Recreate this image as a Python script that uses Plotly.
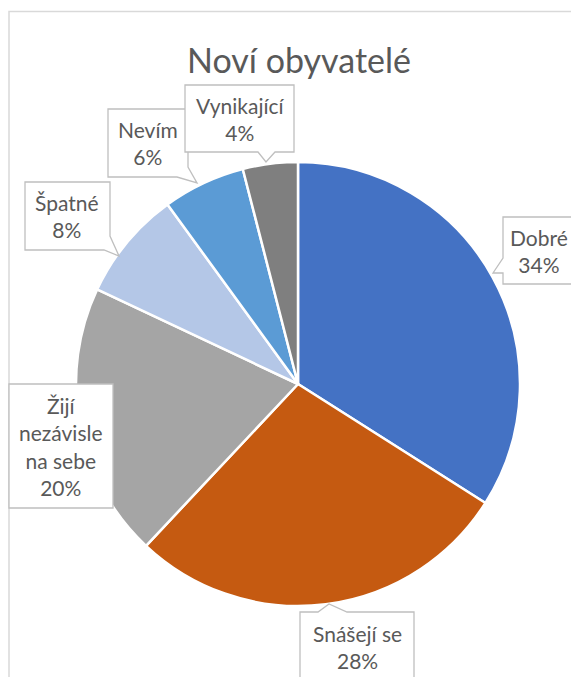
import plotly.graph_objects as go

# ---- data ----
categories = ["Dobré", "Snášejí se", "Žijí nezávisle na sebe", "Špatné", "Nevím", "Vynikající"]
values = [34, 28, 20, 8, 6, 4]
label_lines = [["Dobré"], ["Snášejí se"], ["Žijí", "nezávisle", "na sebe"], ["Špatné"], ["Nevím"], ["Vynikající"]]
colors = ["#4472C4", "#C55A11", "#A5A5A5", "#B4C7E7", "#5B9BD5", "#7F7F7F"]
title_text = "Noví obyvatelé"

# page body has an 8px margin; figure fills the rest of the window
OFF = 8
W, H = 579 - OFF, 677 - OFF
FONT = "Lato, Calibri, sans-serif"
TXT = "#595959"
EDGE = "#BFBFBF"

def px(x):
    return (x - OFF) / W

def py(y):
    return 1 - (y - OFF) / H

# pie placement (window pixels)
cx, cy, r = 298, 384, 222

fig = go.Figure(go.Pie(
    labels=categories, values=values, sort=False, direction="clockwise", rotation=0,
    marker=dict(colors=colors, line=dict(color="white", width=2.5)),
    textinfo="none", hoverinfo="label+percent", showlegend=False,
    domain=dict(x=[px(cx - r), px(cx + r)], y=[py(cy + r), py(cy - r)]),
))

# callout outlines (window-pixel polygons), in category order
callouts = [
    [(503, 217), (575, 217), (575, 284), (503, 284), (503, 273), (493, 273), (503, 258)],
    [(300, 612), (318, 612), (329, 604), (347, 612), (414, 612), (414, 690), (300, 690)],
    [(9, 384), (113, 384), (113, 508), (9, 508)],
    [(25, 182), (110, 182), (110, 236), (119, 256), (104, 250), (25, 250)],
    [(108, 109), (188, 109), (188, 167), (197, 183), (177, 177), (108, 177)],
    [(185, 85), (294, 85), (294, 152), (275, 152), (266, 162), (258, 152), (185, 152)],
]
text_centers = [(539, 251), (357, 647), (61, 446), (67, 216), (148, 143), (240, 119)]

shapes = [dict(type="rect", xref="paper", yref="paper", x0=px(9), x1=1.02, y0=-0.02, y1=py(11.5),
               line=dict(color="#D9D9D9", width=1.5), fillcolor="rgba(0,0,0,0)", layer="below")]
for poly in callouts:
    path = "M " + " L ".join(f"{px(x):.5f},{py(y):.5f}" for x, y in poly) + " Z"
    shapes.append(dict(type="path", xref="paper", yref="paper", path=path,
                       fillcolor="white", line=dict(color=EDGE, width=1.3), layer="above"))

annotations = [dict(text=title_text, x=px(299), y=py(59), xref="paper", yref="paper",
                    showarrow=False, font=dict(family=FONT, size=34, color=TXT),
                    xanchor="center", yanchor="middle")]
for lines, v, (tx, ty) in zip(label_lines, values, text_centers):
    annotations.append(dict(text="<br>".join(lines + [f"{v}%"]), x=px(tx), y=py(ty),
                            xref="paper", yref="paper", showarrow=False,
                            font=dict(family=FONT, size=21, color=TXT),
                            xanchor="center", yanchor="middle", align="center"))

fig.update_layout(width=W, height=H, margin=dict(l=0, r=0, t=0, b=0),
                  paper_bgcolor="white", plot_bgcolor="white",
                  shapes=shapes, annotations=annotations)

fig.write_html("out.html")
